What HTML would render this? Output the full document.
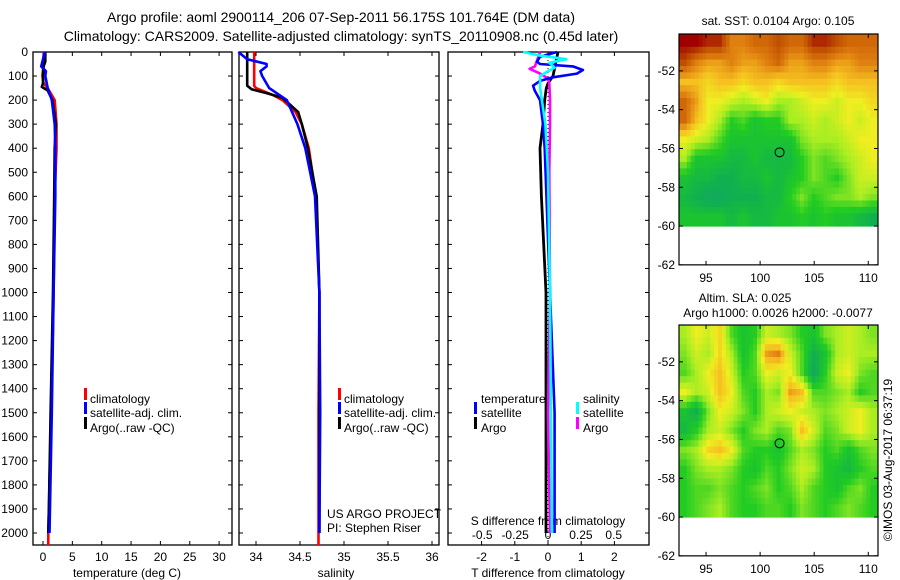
<!DOCTYPE html>
<html><head><meta charset="utf-8"><style>
html,body{margin:0;padding:0;background:#fff;}
svg{display:block;font-family:"Liberation Sans",sans-serif;}
text{font-size:12px;fill:#000;}
</style></head><body>
<svg id="fig" width="900" height="580" viewBox="0 0 900 580" xmlns="http://www.w3.org/2000/svg">
<text x="341" y="22" text-anchor="middle" style="font-size:14px">Argo profile: aoml 2900114_206 07-Sep-2011 56.175S 101.764E (DM data)</text>
<text x="341" y="41" text-anchor="middle" style="font-size:14px">Climatology: CARS2009. Satellite-adjusted climatology: synTS_20110908.nc (0.45d later)</text>
<g id="g"></g>
</svg>
<script>
// ---- data ----
const depthTicks=[0,100,200,300,400,500,600,700,800,900,1000,1100,1200,1300,1400,1500,1600,1700,1800,1900,2000];
const tempTicks=[0,5,10,15,20,25,30];
const salTicks=[34,34.5,35,35.5,36];
const tdiffTicks=[-2,-1,0,1,2];
const sdiffTicks=[-0.5,-0.25,0,0.25,0.5];
const latTicks=[-52,-54,-56,-58,-60,-62];
const lonTicks=[95,100,105,110];

const climTdepth=[0,50,100,130,150,200,300,400,600,1000,1500,2000,2050];
const climT=[0.1,0.1,-0.1,0.1,0.8,2.0,2.3,2.3,2.0,1.8,1.4,0.9,0.9];
const satTdepth=[0,30,60,80,100,150,200,300,400,600,1000,1500,2000];
const satT=[0.3,0.0,-0.3,0.5,0.4,0.8,1.5,2.0,2.1,2.1,1.8,1.5,1.1];
const argoTdepth=[0,40,60,100,130,145,160,200,300,400,600,1000,1500,1900,2000];
const argoT=[0.4,0.4,0.1,0.0,0.0,-0.2,0.8,1.6,2.2,2.0,1.9,1.7,1.3,1.0,0.9];

const climSdepth=[0,140,150,180,200,250,300,400,600,1000,1500,2000,2050];
const climS=[33.98,33.98,34.0,34.2,34.3,34.45,34.52,34.6,34.68,34.72,34.71,34.71,34.71];
const satSdepth=[0,30,50,60,80,100,150,200,300,400,600,1000,1500,2000];
const satS=[33.8,33.9,34.12,34.12,34.05,34.07,34.15,34.35,34.47,34.56,34.67,34.72,34.73,34.72];
const argoSdepth=[0,140,155,170,190,250,300,400,600,1000,1500,2000];
const argoS=[33.9,33.9,33.95,34.11,34.3,34.48,34.52,34.59,34.69,34.72,34.72,34.72];

const dTsatDepth=[0,20,40,50,60,75,90,105,120,140,160,200,300,400,1000,1500,2000];
const dTsat=[0.27,-0.24,-0.33,-0.24,0.75,1.05,0.87,0.15,-0.24,-0.45,-0.4,-0.24,-0.15,-0.1,0.06,0.2,0.2];
const dTargoDepth=[0,100,130,150,200,300,400,600,1000,1500,2000];
const dTargo=[0.3,0.15,0.0,-0.05,-0.1,-0.15,-0.24,-0.2,-0.06,-0.06,-0.06];
const dSsatDepth=[0,15,30,45,65,80,100,150,300,500,1000,2000];
const dSsat=[-0.19,-0.06,0.14,0.01,0.05,0.0,-0.06,-0.06,-0.02,0.0,0.015,0.03];
const dSargoDepth=[0,30,60,70,90,110,130,200,300,500,1000,1500,2000];
const dSargo=[-0.06,-0.08,-0.1,-0.14,-0.06,0.0,0.01,0.015,0.015,0.01,0.015,0.0,0.015];

const sstGrid=[
[1,1,.95,.95,.8,.8,.85,.85,.9,.85,.85,.95,.95,.9,.85,.85,.85],
[.9,.8,.75,.75,.8,.75,.75,.8,.85,.75,.75,.8,.8,.75,.75,.8,.8],
[.7,.7,.65,.7,.7,.65,.7,.7,.65,.7,.7,.7,.7,.65,.7,.7,.7],
[.85,.75,.6,.6,.55,.5,.55,.6,.5,.5,.55,.6,.6,.55,.6,.6,.65],
[.85,.7,.6,.5,.35,.4,.3,.35,.35,.5,.5,.55,.5,.55,.6,.55,.6],
[.6,.55,.5,.4,.3,.3,.3,.3,.3,.3,.45,.5,.5,.5,.55,.6,.6],
[.5,.3,.3,.3,.25,.25,.3,.25,.25,.25,.35,.45,.4,.45,.5,.55,.6],
[.3,.25,.25,.2,.2,.25,.25,.3,.25,.3,.35,.45,.4,.35,.45,.55,.55],
[.25,.2,.15,.15,.2,.2,.2,.25,.25,.35,.45,.35,.4,.45,.45,.5,.45],
[.3,.3,.3,.3,.25,.3,.25,.25,.3,.3,.35,.3,.35,.3,.3,.25,.2]];
const slaGrid=[
[.5,.6,.55,.65,.4,.3,.35,.55,.5,.45,.35,.3,.45,.5,.55,.5,.45],
[.45,.55,.5,.65,.5,.3,.4,.75,.8,.55,.4,.2,.3,.5,.55,.5,.5],
[.4,.5,.6,.7,.55,.35,.4,.6,.55,.6,.4,.15,.35,.55,.6,.45,.4],
[.6,.5,.55,.7,.6,.4,.35,.5,.45,.75,.7,.4,.4,.45,.5,.35,.4],
[.3,.2,.45,.6,.55,.45,.35,.5,.55,.6,.55,.5,.45,.5,.55,.6,.5],
[.25,.35,.5,.55,.45,.35,.45,.5,.4,.45,.7,.55,.4,.45,.55,.6,.5],
[.45,.5,.65,.7,.6,.4,.35,.35,.3,.4,.5,.45,.35,.4,.3,.4,.45],
[.35,.45,.5,.5,.45,.35,.3,.4,.35,.45,.55,.5,.35,.3,.25,.35,.4],
[.35,.4,.4,.45,.4,.35,.4,.45,.35,.4,.5,.4,.35,.3,.4,.45,.35],
[.35,.4,.45,.5,.4,.35,.35,.4,.4,.35,.45,.4,.35,.4,.45,.4,.35]];
const argoLon=101.8, argoLat=-56.2;

// ---- helpers ----
const NS="http://www.w3.org/2000/svg";
const G=document.getElementById('g');
function mk(tag,attrs,parent){const e=document.createElementNS(NS,tag);for(const k in attrs)e.setAttribute(k,attrs[k]);(parent||G).appendChild(e);return e;}
function txt(x,y,s,anchor,size){const t=mk('text',{x:x,y:y,'text-anchor':anchor||'start'});if(size)t.style.fontSize=size+'px';t.textContent=s;return t;}

const TOP=52,BOT=545;
const yD=d=>TOP+d*0.2405;
const xT=v=>43+v*5.87;
const xS=v=>256+(v-34)*88;
const xdT=v=>548+v*33.2;
const xdS=v=>548+v*131.5;

function frame(x0,x1,name){
  const r=mk('rect',{x:x0,y:TOP,width:x1-x0,height:BOT-TOP,fill:'none',stroke:'#000','stroke-width':1.3});
  
  
  depthTicks.forEach(d=>{mk('line',{x1:x0,x2:x0+4,y1:yD(d),y2:yD(d),stroke:'#000'});mk('line',{x1:x1,x2:x1-4,y1:yD(d),y2:yD(d),stroke:'#000'});});
}
function line(xs,ds,fx,color,name,w){
  const p=xs.map((v,i)=>fx(v).toFixed(1)+','+yD(ds[i]).toFixed(1)).join(' ');
  const e=mk('polyline',{points:p,fill:'none',stroke:color,'stroke-width':w||2.6,'stroke-linejoin':'round'});
  
  
}
function legendBar(x,y,color){mk('rect',{x:x,y:y-10,width:3,height:12,fill:color});}

// panel 1
frame(33,232,'temperature-panel');
depthTicks.forEach(d=>{const t=txt(28,yD(d)+4,String(d),'end');});
tempTicks.forEach(v=>{mk('line',{x1:xT(v),x2:xT(v),y1:BOT,y2:BOT-4,stroke:'#000'});mk('line',{x1:xT(v),x2:xT(v),y1:TOP,y2:TOP+4,stroke:'#000'});const t=txt(xT(v),561,String(v),'middle');});
{const t=txt(127,577,'temperature (deg C)','middle');}
line(climT,climTdepth,xT,'#ff0000','climatology-temp-line');
line(argoT,argoTdepth,xT,'#000000','argo-temp-line');
line(satT,satTdepth,xT,'#0000ff','satellite-temp-line');
legendBar(84,398,'#f00');txt(90,403,'climatology');
legendBar(84,412,'#00f');txt(90,417,'satellite-adj. clim.');
legendBar(84,427,'#000');txt(90,432,'Argo(..raw -QC)');

// panel 2
frame(239,439,'salinity-panel');
salTicks.forEach(v=>{mk('line',{x1:xS(v),x2:xS(v),y1:BOT,y2:BOT-4,stroke:'#000'});mk('line',{x1:xS(v),x2:xS(v),y1:TOP,y2:TOP+4,stroke:'#000'});const t=txt(xS(v),561,String(v),'middle');});
{const t=txt(336,577,'salinity','middle');}
line(climS,climSdepth,xS,'#ff0000','climatology-sal-line');
line(argoS,argoSdepth,xS,'#000000','argo-sal-line');
line(satS,satSdepth,xS,'#0000ff','satellite-sal-line');
legendBar(338,398,'#f00');txt(344,403,'climatology');
legendBar(338,412,'#00f');txt(344,417,'satellite-adj. clim.');
legendBar(338,427,'#000');txt(344,432,'Argo(..raw -QC)');
txt(327,518,'US ARGO PROJECT');txt(327,532,'PI: Stephen Riser');

// panel 3
frame(448,649,'difference-panel');
mk('line',{x1:548,x2:548,y1:TOP,y2:BOT,stroke:'#000','stroke-dasharray':'1,3'});
tdiffTicks.forEach(v=>{mk('line',{x1:xdT(v),x2:xdT(v),y1:BOT,y2:BOT-4,stroke:'#000'});mk('line',{x1:xdT(v),x2:xdT(v),y1:TOP,y2:TOP+4,stroke:'#000'});const t=txt(xdT(v),561,String(v),'middle');});
sdiffTicks.forEach(v=>{const t=txt(xdS(v),539,String(v),'middle');});
{const t=txt(548,525,'S difference from climatology','middle');}
{const t=txt(548,577,'T difference from climatology','middle');}
line(dTargo,dTargoDepth,xdT,'#000000','argo-tdiff-line',2.8);
line(dSargo,dSargoDepth,xdS,'#ff00ff','argo-sdiff-line',2.6);
line(dTsat,dTsatDepth,xdT,'#0000ff','satellite-tdiff-line',2.6);
line(dSsat,dSsatDepth,xdS,'#00ffff','satellite-sdiff-line',2.6);
txt(481,403,'temperature');txt(583,403,'salinity');
legendBar(474,412,'#00f');txt(481,417,'satellite');
legendBar(474,427,'#000');txt(481,432,'Argo');
legendBar(576,412,'#0ff');txt(583,417,'satellite');
legendBar(576,427,'#f0f');txt(583,432,'Argo');

// maps
const stops=[[0,[26,154,122]],[0.2,[16,176,80]],[0.35,[34,204,34]],[0.5,[170,238,34]],[0.6,[238,238,32]],[0.7,[245,192,32]],[0.8,[224,128,16]],[0.9,[192,80,0]],[1,[160,0,0]]];
function cmap(v){for(let i=1;i<stops.length;i++){if(v<=stops[i][0]){const a=stops[i-1],b=stops[i],t=(v-a[0])/(b[0]-a[0]);return 'rgb('+a[1].map((c,k)=>Math.round(c+(b[1][k]-c)*t)).join(',')+')';}}return 'rgb(160,0,0)';}
function sample(grid,fi,fj){
  const nr=grid.length,nc=grid[0].length;
  fi=Math.max(0,Math.min(nr-1,fi));fj=Math.max(0,Math.min(nc-1,fj));
  const i0=Math.floor(fi),j0=Math.floor(fj),i1=Math.min(nr-1,i0+1),j1=Math.min(nc-1,j0+1),a=fi-i0,b=fj-j0;
  return grid[i0][j0]*(1-a)*(1-b)+grid[i0][j1]*(1-a)*b+grid[i1][j0]*a*(1-b)+grid[i1][j1]*a*b;
}
function drawMap(top,grid,name){
  const L=679,R=878,lon0=92.5,lon1=110.9,latTop=-50.1,pxLat=19.4;
  const xL=lo=>L+(lo-lon0)*(R-L)/(lon1-lon0);
  const yL=la=>top+(latTop-la)*pxLat;
  const g=mk('g',{});
  
  
  const nr=grid.length,nc=grid[0].length,SUB=3,ch=(yL(-60)-top)/(nr*SUB),cw=(R-L)/(nc*SUB);
  for(let i=0;i<nr*SUB;i++)for(let j=0;j<nc*SUB;j++){
    const v=sample(grid,(i+0.5)/SUB-0.5,(j+0.5)/SUB-0.5);
    const c=mk('rect',{x:(L+j*cw).toFixed(1),y:(top+i*ch).toFixed(1),width:(cw+0.5).toFixed(1),height:(ch+0.5).toFixed(1),fill:cmap(v)},g);
    
    
  }
  mk('rect',{x:L,y:top,width:R-L,height:yL(-62)-top,fill:'none',stroke:'#000','stroke-width':1.2});
  latTicks.forEach(la=>{mk('line',{x1:L,x2:L+4,y1:yL(la),y2:yL(la),stroke:'#000'});mk('line',{x1:R,x2:R-4,y1:yL(la),y2:yL(la),stroke:'#000'});const t=txt(675,yL(la)+4,String(la),'end');});
  lonTicks.forEach(lo=>{mk('line',{x1:xL(lo),x2:xL(lo),y1:yL(-62),y2:yL(-62)-4,stroke:'#000'});mk('line',{x1:xL(lo),x2:xL(lo),y1:top,y2:top+4,stroke:'#000'});const t=txt(xL(lo),yL(-62)+17,String(lo),'middle');});
  const c=mk('circle',{cx:xL(argoLon),cy:yL(argoLat),r:4.5,fill:'none',stroke:'#000','stroke-width':1});
  
  
}
drawMap(34,sstGrid,'sst-map');
drawMap(325,slaGrid,'sla-map');
txt(778,25,'sat. SST: 0.0104 Argo: 0.105','middle');
txt(745,302,'Altim. SLA: 0.025','middle');
txt(778,317,'Argo h1000: 0.0026 h2000: -0.0077','middle');
{const t=txt(0,0,'©IMOS 03-Aug-2017 06:37:19','middle');t.setAttribute('transform','translate(892,460) rotate(-90)');}
</script>
</body></html>
